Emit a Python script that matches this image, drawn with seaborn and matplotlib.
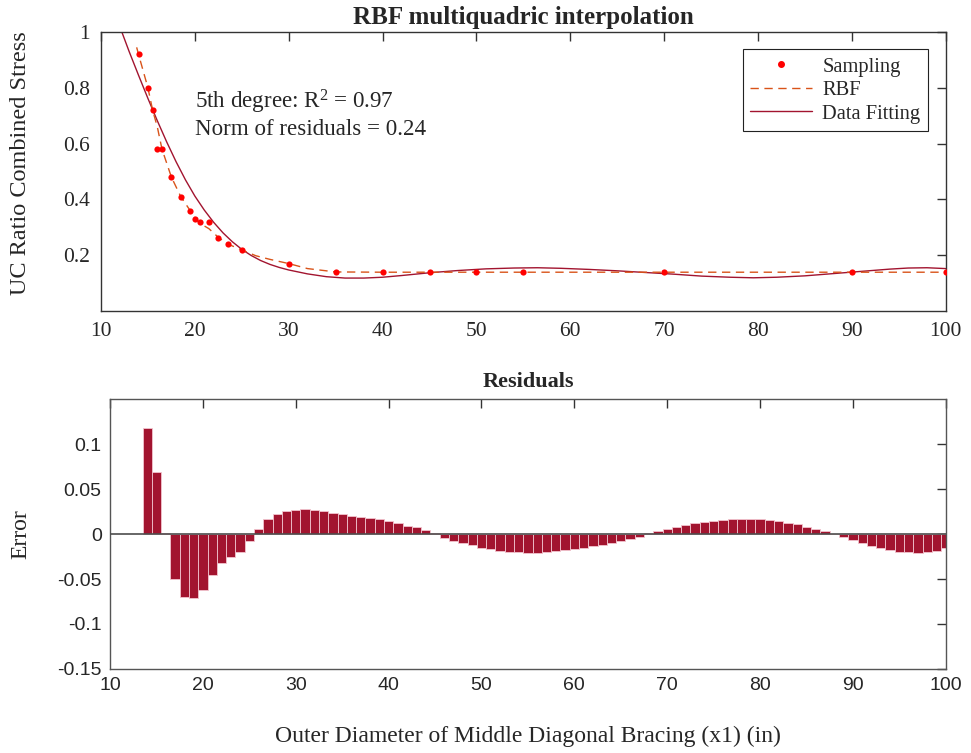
import matplotlib
matplotlib.use("Agg")
import matplotlib.pyplot as plt
from matplotlib.lines import Line2D
import seaborn as sns

# ---------------- data ----------------
samp_x = [14, 15, 15.5, 16, 16.5, 17.5, 18.5, 19.5, 20, 20.5, 21.5, 22.5, 23.5, 25,
          30, 35, 40, 45, 50, 55, 70, 90, 100]
samp_y = [0.92, 0.80, 0.72, 0.58, 0.58, 0.48, 0.41, 0.36, 0.33, 0.32, 0.32, 0.26, 0.24, 0.22,
          0.17, 0.14, 0.14, 0.14, 0.14, 0.14, 0.14, 0.14, 0.14]

rbf_x = [13.8, 14, 15, 15.5, 16, 16.5, 17.5, 18.5, 19.5, 20, 20.5, 21.5, 22.5, 23.5, 25,
         26.5, 28, 30, 32, 35, 40, 45, 50, 55, 60, 70, 80, 90, 100]
rbf_y = [0.945, 0.92, 0.80, 0.72, 0.66, 0.58, 0.48, 0.41, 0.36, 0.335, 0.315, 0.295, 0.264, 0.240, 0.219,
         0.198, 0.185, 0.170, 0.152, 0.140, 0.139, 0.139, 0.139, 0.139, 0.139, 0.139, 0.139, 0.139, 0.139]

fit_x = [12, 13, 14, 15, 16, 17, 18, 19, 20, 21, 22, 23, 24, 25, 26, 27, 28, 29, 30,
         32, 34, 36, 38, 40, 42, 45, 48, 51, 54, 56.5, 59, 62, 65, 68, 71, 74, 77,
         79.5, 82, 85, 88, 91, 94, 96, 98, 100]
fit_y = [1.02, 0.93, 0.845, 0.762, 0.682, 0.606, 0.535, 0.470, 0.412, 0.362, 0.318, 0.280, 0.248,
         0.221, 0.199, 0.181, 0.167, 0.156, 0.147,
         0.133, 0.123, 0.118, 0.118, 0.121, 0.127, 0.137, 0.145, 0.151, 0.154, 0.155, 0.153,
         0.149, 0.144, 0.138, 0.132, 0.125, 0.121, 0.119, 0.121, 0.126, 0.134, 0.142, 0.150,
         0.154, 0.155, 0.152]

res_x = list(range(14, 101))
res_y = [0.118, 0.069, 0.0015, -0.050, -0.0705, -0.0715, -0.062, -0.045, -0.032, -0.0255,
         -0.0195, -0.0082, 0.006, 0.0164, 0.0228, 0.0257, 0.0272, 0.0276, 0.0269, 0.0254,
         0.0239, 0.022, 0.0205, 0.019, 0.0179, 0.0164, 0.0146, 0.0123, 0.0093, 0.0075,
         0.0041, 0.001, -0.004, -0.0075, -0.010, -0.0127, -0.015, -0.0169, -0.0184, -0.0195,
         -0.0202, -0.0206, -0.0206, -0.0199, -0.0191, -0.018, -0.0169, -0.0154, -0.0135, -0.012,
         -0.0097, -0.0075, -0.0052, -0.003, 0.0015, 0.0034, 0.0056, 0.0079, 0.0101, 0.012,
         0.0135, 0.015, 0.0161, 0.0169, 0.0172, 0.0172, 0.0169, 0.0157, 0.0142, 0.0127,
         0.0109, 0.0082, 0.006, 0.003, 0.0, -0.0037, -0.0067, -0.010, -0.013, -0.0157,
         -0.018, -0.0195, -0.0202, -0.0206, -0.0202, -0.0184, -0.016]

top_xticks = [10, 20, 30, 40, 50, 60, 70, 80, 90, 100]
top_yticks = [0.2, 0.4, 0.6, 0.8, 1.0]
top_yticklabels = ["0.2", "0.4", "0.6", "0.8", "1"]
bot_yticks = [-0.15, -0.1, -0.05, 0, 0.05, 0.1]
bot_yticklabels = ["-0.15", "-0.1", "-0.05", "0", "0.05", "0.1"]

# ---------------- styling ----------------
sns.set_style("white")
plt.rcParams["font.family"] = ["Liberation Serif", "DejaVu Serif"]
plt.rcParams["mathtext.fontset"] = "custom"
plt.rcParams["mathtext.rm"] = "Liberation Serif"

FIT_C = "#A2142F"
RBF_C = "#D95319"
SPINE_C = "#333333"

fig = plt.figure(figsize=(9.71, 7.53), dpi=100)
ax1 = fig.add_axes([0.104, 0.587, 0.870, 0.3705])
ax2 = fig.add_axes([0.1133, 0.1116, 0.8607, 0.3584])

# ---------------- top panel ----------------
sns.lineplot(x=fit_x, y=fit_y, ax=ax1, color=FIT_C, lw=1.0, sort=False, zorder=2)
sns.lineplot(x=rbf_x, y=rbf_y, ax=ax1, color=RBF_C, lw=1.0, sort=False, zorder=3)
ax1.lines[-1].set_dashes((6, 4))
sns.scatterplot(x=samp_x, y=samp_y, ax=ax1, color="#FF0000", s=20, linewidth=0, zorder=4)

ax1.set_xlim(10, 100)
ax1.set_ylim(0, 1)
ax1.set_xticks(top_xticks)
ax1.set_xticklabels([str(t) for t in top_xticks])
ax1.set_yticks(top_yticks)
ax1.set_yticklabels(top_yticklabels)
ax1.tick_params(direction="in", length=6.5, width=1, top=True, right=True,
                labelsize=15.5, colors=SPINE_C, labelcolor="#262626", pad=8)
for s in ax1.spines.values():
    s.set_color(SPINE_C)
    s.set_linewidth(1)
ax1.set_title("RBF multiquadric interpolation", fontsize=18, fontweight="bold", pad=6)
ax1.set_ylabel("UC Ratio Combined Stress", fontsize=17.5)
ax1.yaxis.set_label_coords(-0.083, 0.53)

ax1.text(0.111, 0.749, "5th degree: $\\mathregular{R^2}$ = 0.97", transform=ax1.transAxes,
         fontsize=16.6, va="center", ha="left")
ax1.text(0.111, 0.652, "Norm of residuals = 0.24", transform=ax1.transAxes,
         fontsize=16.6, va="center", ha="left")

handles = [
    Line2D([], [], color="#FF0000", marker="o", markersize=4, linestyle="none"),
    Line2D([], [], color=RBF_C, lw=1.0, dashes=(6, 4)),
    Line2D([], [], color=FIT_C, lw=1.0),
]
leg = ax1.legend(handles, ["Sampling", "RBF", "Data Fitting"], loc="upper right",
                 fontsize=14.8, frameon=True, fancybox=False, framealpha=1,
                 handlelength=3.0, handletextpad=0.5, labelspacing=0.2,
                 borderpad=0.38, borderaxespad=0.85)
leg.get_frame().set_edgecolor("#222222")
leg.get_frame().set_linewidth(0.8)

# ---------------- bottom panel ----------------
sns.barplot(x=res_x, y=res_y, ax=ax2, native_scale=True, color=FIT_C, saturation=1,
            width=1.0, edgecolor="#f2c4cf", linewidth=0.6, errorbar=None, zorder=2)
ax2.axhline(0, color="#4d4d4d", lw=1.2, zorder=3)
ax2.set_xlim(10, 100)
ax2.set_ylim(-0.15, 0.15)
ax2.set_xticks(top_xticks)
ax2.set_xticklabels([str(t) for t in top_xticks], family=["Liberation Sans", "DejaVu Sans"])
ax2.set_yticks(bot_yticks)
ax2.set_yticklabels(bot_yticklabels, family=["Liberation Sans", "DejaVu Sans"])
ax2.tick_params(direction="in", length=6.5, width=1, top=True, right=True,
                labelsize=14, colors=SPINE_C, labelcolor="#262626", pad=6)
for s in ax2.spines.values():
    s.set_color("#555555")
    s.set_linewidth(1)
ax2.set_title("Residuals", fontsize=16, fontweight="bold", pad=9)
ax2.set_ylabel("Error", fontsize=17)
ax2.yaxis.set_label_coords(-0.0945, 0.5)
ax2.set_xlabel("Outer Diameter of Middle Diagonal Bracing (x1) (in)", fontsize=17)
ax2.xaxis.set_label_coords(0.5, -0.212)

fig.savefig("out.png", dpi=100)
